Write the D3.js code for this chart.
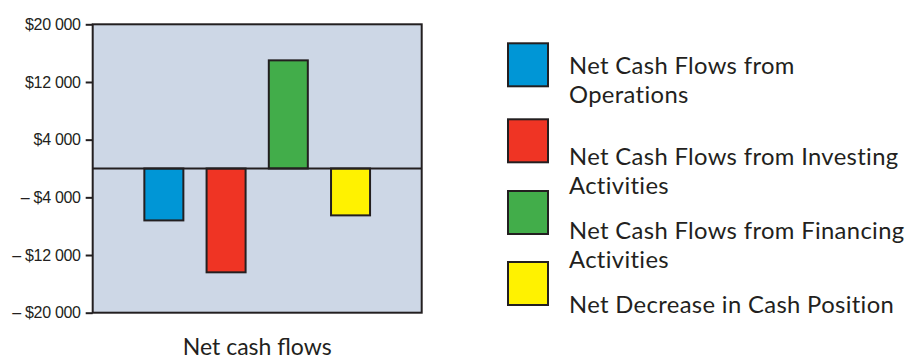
<!DOCTYPE html>
<html>
<head>
<meta charset="utf-8">
<script src="https://cdn.jsdelivr.net/npm/d3@7"></script>
<style>
  html, body { margin: 0; padding: 0; background: #ffffff; }
  svg { display: block; }
</style>
</head>
<body>
<svg id="chart" width="909" height="360"></svg>
<script>
// Cash flow components and their values (dollars)
const categories = [
  "Net Cash Flows from Operations",
  "Net Cash Flows from Investing Activities",
  "Net Cash Flows from Financing Activities",
  "Net Decrease in Cash Position"
];
const values = [-7200, -14400, 15000, -6500];
const colors = ["#0096d6", "#ef3424", "#42ad4a", "#fff200"];
const tickValues = [20000, 12000, 4000, -4000, -12000, -20000];
const tickLabels = ["$20 000", "$12 000", "$4 000", "\u2013 $4 000", "\u2013 $12 000", "\u2013 $20 000"];
// Legend text split onto its display lines
const legendLines = [
  ["Net Cash Flows from", "Operations"],
  ["Net Cash Flows from Investing", "Activities"],
  ["Net Cash Flows from Financing", "Activities"],
  ["Net Decrease in Cash Position"]
];
const xTitle = "Net cash flows";

const ink = "#231f20";
const svg = d3.select("#chart");

const plot = { left: 92.7, right: 421.7, top: 24.3, bottom: 312.7 };

const x = d3.scaleBand()
  .domain(categories)
  .range([plot.left, plot.right])
  .paddingInner(0.373)
  .paddingOuter(0.83);

const y = d3.scaleLinear()
  .domain([-20000, 20000])
  .range([plot.bottom, plot.top]);

// Plot background
svg.append("rect")
  .attr("x", plot.left).attr("y", plot.top)
  .attr("width", plot.right - plot.left)
  .attr("height", plot.bottom - plot.top)
  .attr("fill", "#cdd7e6");

// Bars
svg.append("g").selectAll("rect")
  .data(categories)
  .join("rect")
  .attr("x", d => x(d))
  .attr("width", x.bandwidth())
  .attr("y", (d, i) => y(Math.max(0, values[i])))
  .attr("height", (d, i) => Math.abs(y(values[i]) - y(0)))
  .attr("fill", (d, i) => colors[i])
  .attr("stroke", ink)
  .attr("stroke-width", 2);

// Zero line
svg.append("line")
  .attr("x1", plot.left).attr("x2", plot.right)
  .attr("y1", y(0)).attr("y2", y(0))
  .attr("stroke", ink).attr("stroke-width", 2);

// Plot frame
svg.append("rect")
  .attr("x", plot.left).attr("y", plot.top)
  .attr("width", plot.right - plot.left)
  .attr("height", plot.bottom - plot.top)
  .attr("fill", "none")
  .attr("stroke", ink).attr("stroke-width", 2);

// Y axis
const yAxis = d3.axisLeft(y)
  .tickValues(tickValues)
  .tickFormat((d, i) => tickLabels[i])
  .tickSize(7)
  .tickPadding(5);

const gy = svg.append("g")
  .attr("transform", `translate(${plot.left},0)`)
  .call(yAxis);
gy.select(".domain").remove();
gy.selectAll(".tick line").attr("stroke", ink).attr("stroke-width", 2);
gy.selectAll(".tick text")
  .attr("fill", ink)
  .attr("font-family", "'Liberation Sans', Arial, sans-serif")
  .attr("font-size", 16)
  .attr("letter-spacing", "-0.3");

// X axis title
svg.append("text")
  .attr("x", (plot.left + plot.right) / 2)
  .attr("y", 355)
  .attr("text-anchor", "middle")
  .attr("fill", ink)
  .style("font-family", "Lato, 'Open Sans', sans-serif")
  .style("font-size", "23px")
  .text(xTitle);

// Legend
const legendBoxes = [42.3, 118.3, 190, 261];
const legendBase = [74, 165, 239.3, 312.7];
const lg = svg.append("g");
categories.forEach((c, i) => {
  lg.append("rect")
    .attr("x", 508).attr("y", legendBoxes[i] + 1)
    .attr("width", 40).attr("height", 43)
    .attr("fill", colors[i])
    .attr("stroke", ink).attr("stroke-width", 2);
  legendLines[i].forEach((t, j) => {
    lg.append("text")
      .attr("x", 569)
      .attr("y", legendBase[i] + j * 28.8)
      .attr("fill", ink)
      .attr("letter-spacing", "0.35")
      .style("font-family", "Lato, 'Open Sans', sans-serif")
      .style("font-size", "23.8px")
      .text(t);
  });
});
</script>
</body>
</html>
